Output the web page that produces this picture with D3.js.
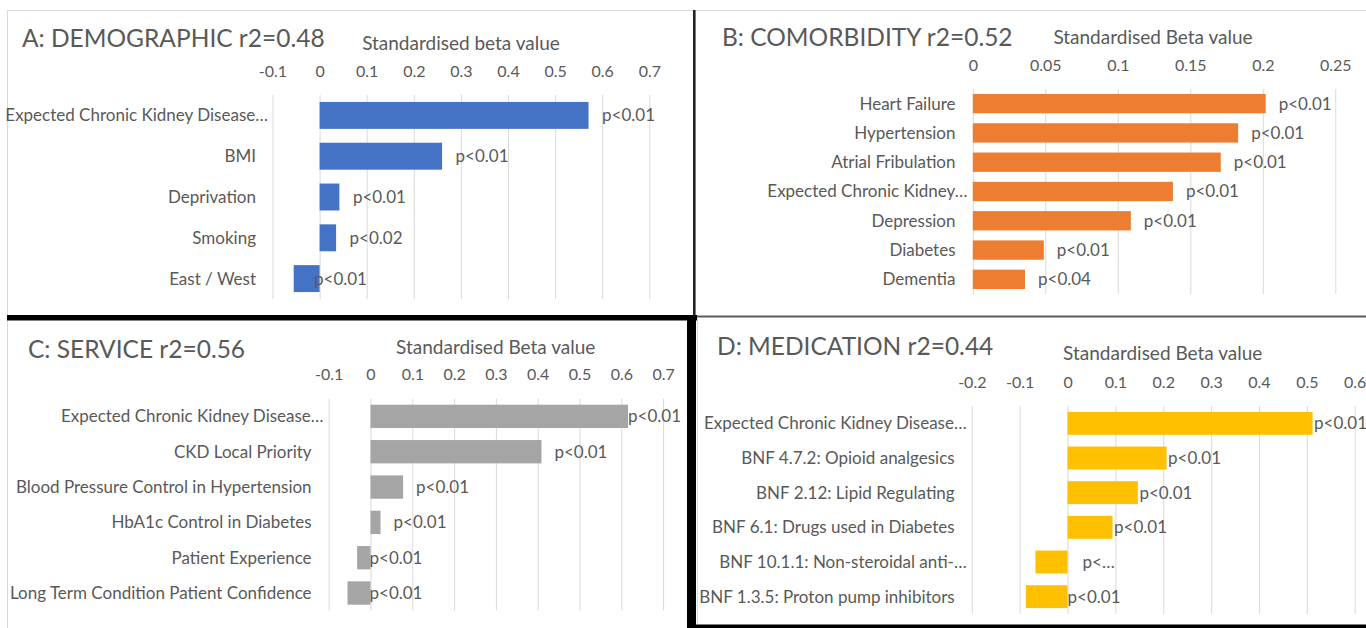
<!DOCTYPE html>
<html>
<head>
<meta charset="utf-8">
<script src="https://cdn.jsdelivr.net/npm/d3@7"></script>
<style>
  html, body { margin: 0; padding: 0; background: #fff; overflow: hidden; }
  svg { display: block; }
  text { font-family: Lato, "Open Sans", sans-serif; fill: #595959; }
</style>
</head>
<body>
<svg id="chart" width="1366" height="628"></svg>
<script>
// ---- A: demographic model ----
const demoCategories = ["Expected Chronic Kidney Disease…", "BMI", "Deprivation", "Smoking", "East / West"];
const demoBeta = [0.571, 0.26, 0.042, 0.035, -0.055];
const demoP = ["p<0.01", "p<0.01", "p<0.01", "p<0.02", "p<0.01"];
const demoTicks = ["-0.1", "0", "0.1", "0.2", "0.3", "0.4", "0.5", "0.6", "0.7"];

// ---- B: comorbidity model ----
const comorbCategories = ["Heart Failure", "Hypertension", "Atrial Fribulation", "Expected Chronic Kidney…", "Depression", "Diabetes", "Dementia"];
const comorbBeta = [0.202, 0.183, 0.171, 0.138, 0.109, 0.049, 0.036];
const comorbP = ["p<0.01", "p<0.01", "p<0.01", "p<0.01", "p<0.01", "p<0.01", "p<0.04"];
const comorbTicks = ["0", "0.05", "0.1", "0.15", "0.2", "0.25"];

// ---- C: service model ----
const serviceCategories = ["Expected Chronic Kidney Disease…", "CKD Local Priority", "Blood Pressure Control in Hypertension", "HbA1c Control in Diabetes", "Patient Experience", "Long Term Condition Patient Confidence"];
const serviceBeta = [0.616, 0.409, 0.078, 0.024, -0.032, -0.055];
const serviceP = ["p<0.01", "p<0.01", "p<0.01", "p<0.01", "p<0.01", "p<0.01"];
const serviceTicks = ["-0.1", "0", "0.1", "0.2", "0.3", "0.4", "0.5", "0.6", "0.7"];

// ---- D: medication model ----
const medCategories = ["Expected Chronic Kidney Disease…", "BNF 4.7.2: Opioid analgesics", "BNF 2.12: Lipid Regulating", "BNF 6.1: Drugs used in Diabetes", "BNF 10.1.1: Non-steroidal anti-…", "BNF 1.3.5: Proton pump inhibitors"];
const medBeta = [0.512, 0.207, 0.147, 0.094, -0.067, -0.087];
const medP = ["p<0.01", "p<0.01", "p<0.01", "p<0.01", "p<…", "p<0.01"];
const medTicks = ["-0.2", "-0.1", "0", "0.1", "0.2", "0.3", "0.4", "0.5", "0.6"];

const FONT = { title: 24.5, axisTitle: 19, tick: 16, cat: 17, value: 17 };

const panels = [
  { title: "A: DEMOGRAPHIC r2=0.48", axisTitle: "Standardised beta value",
    cats: demoCategories, vals: demoBeta, p: demoP, ticks: demoTicks, color: "#4472C4",
    titleX: 22, titleY: 47, axisTitleX: 461, axisTitleY: 50, tickY: 71,
    xRange: [272.5, 649.3], yRange: [95, 299], labelRight: 256,
    gap: 13.5, negGap: -5.6, clampRight: null },
  { title: "B: COMORBIDITY r2=0.52", axisTitle: "Standardised Beta value",
    cats: comorbCategories, vals: comorbBeta, p: comorbP, ticks: comorbTicks, color: "#ED7D31",
    titleX: 722, titleY: 45.7, axisTitleX: 1153, axisTitleY: 44.3, tickY: 65.7,
    xRange: [972.8, 1335.3], yRange: [89, 294], labelRight: 955.5,
    gap: 13, negGap: 0, clampRight: null },
  { title: "C: SERVICE r2=0.56", axisTitle: "Standardised Beta value",
    cats: serviceCategories, vals: serviceBeta, p: serviceP, ticks: serviceTicks, color: "#A5A5A5",
    titleX: 28, titleY: 358, axisTitleX: 495.7, axisTitleY: 354, tickY: 374.6,
    xRange: [328.7, 663.1], yRange: [398.7, 610.7], labelRight: 311.6,
    gap: 13, negGap: -1, clampRight: 681 },
  { title: "D: MEDICATION r2=0.44", axisTitle: "Standardised Beta value",
    cats: medCategories, vals: medBeta, p: medP, ticks: medTicks, color: "#FFC000",
    titleX: 717, titleY: 355.4, axisTitleX: 1162.7, axisTitleY: 360.3, tickY: 381.9,
    xRange: [971.8, 1354.7], yRange: [406, 614], labelRight: 954.7,
    gap: 1.5, negGap: 0, clampRight: null }
];

const svg = d3.select("#chart");

// Frames and separators between the four charts
const frames = svg.append("g").attr("class", "frames");
frames.append("rect").attr("x", 7.5).attr("y", 10.5).attr("width", 688).attr("height", 305)
  .attr("fill", "none").attr("stroke", "#d9d9d9");
frames.append("line").attr("x1", 695).attr("x2", 1366).attr("y1", 10.5).attr("y2", 10.5)
  .attr("stroke", "#d9d9d9");
frames.append("line").attr("x1", 7.5).attr("x2", 7.5).attr("y1", 320).attr("y2", 628)
  .attr("stroke", "#d9d9d9");
frames.append("line").attr("x1", 697.5).attr("x2", 697.5).attr("y1", 318).attr("y2", 624)
  .attr("stroke", "#d9d9d9");
frames.append("rect").attr("x", 693).attr("y", 10).attr("width", 2.5).attr("height", 306).attr("fill", "#222");
frames.append("rect").attr("x", 696).attr("y", 315.5).attr("width", 670).attr("height", 2).attr("fill", "#5a5a5a");
frames.append("rect").attr("x", 7).attr("y", 315).attr("width", 690).attr("height", 5.5).attr("fill", "#000");
frames.append("rect").attr("x", 687).attr("y", 315).attr("width", 9).attr("height", 313).attr("fill", "#000");
frames.append("rect").attr("x", 687).attr("y", 624.5).attr("width", 679).attr("height", 3.5).attr("fill", "#000");

panels.forEach(pn => {
  const g = svg.append("g");
  const tickVals = pn.ticks.map(Number);
  const x = d3.scaleLinear().domain([tickVals[0], tickVals[tickVals.length - 1]]).range(pn.xRange);
  const y = d3.scaleBand().domain(pn.cats).range(pn.yRange).paddingInner(0.34).paddingOuter(0.17);
  const labelOf = new Map(tickVals.map((v, i) => [v, pn.ticks[i]]));

  // vertical gridlines
  const grid = g.append("g").attr("transform", `translate(0,${pn.yRange[0]})`)
    .call(d3.axisBottom(x).tickValues(tickVals).tickSize(pn.yRange[1] - pn.yRange[0]).tickFormat(""));
  grid.select(".domain").remove();
  grid.selectAll(".tick line").attr("stroke", "#d9d9d9").attr("stroke-width", 1);

  // tick labels along the top
  const ax = g.append("g").attr("transform", `translate(0,${pn.tickY})`)
    .call(d3.axisTop(x).tickValues(tickVals).tickSize(0).tickPadding(0).tickFormat(v => labelOf.get(v)));
  ax.select(".domain").remove();
  ax.attr("font-family", null).attr("font-size", null);
  ax.selectAll("text").attr("dy", "0.35em").attr("y", 0)
    .style("font-size", FONT.tick + "px").style("fill", "#595959");

  // bars
  g.append("g").selectAll("rect").data(pn.vals).join("rect")
    .attr("x", v => x(Math.min(0, v)))
    .attr("width", v => Math.abs(x(v) - x(0)))
    .attr("y", (v, i) => y(pn.cats[i]))
    .attr("height", y.bandwidth())
    .attr("fill", pn.color);

  // category labels (truncated ones run slightly further right)
  g.append("g").selectAll("text").data(pn.cats).join("text")
    .attr("x", c => pn.labelRight + (c.endsWith("…") ? 12 : 0))
    .attr("y", c => y(c) + y.bandwidth() / 2)
    .attr("dy", "0.35em")
    .attr("text-anchor", "end")
    .style("font-size", FONT.cat + "px")
    .text(c => c);

  // significance labels
  g.append("g").selectAll("text").data(pn.vals).join("text")
    .attr("y", (v, i) => y(pn.cats[i]) + y.bandwidth() / 2)
    .attr("dy", "0.35em")
    .style("font-size", FONT.value + "px")
    .text((v, i) => pn.p[i])
    .attr("x", function (v, i) {
      let px = v >= 0 ? x(v) + pn.gap : x(0) + pn.negGap;
      // a clipped label sits clear of the zero line
      if (pn.p[i].endsWith("…")) px = x(0) + 15;
      if (pn.clampRight != null) px = Math.min(px, pn.clampRight - this.getComputedTextLength());
      return px;
    });

  // titles
  g.append("text").attr("x", pn.titleX).attr("y", pn.titleY)
    .style("font-size", FONT.title + "px").text(pn.title);
  g.append("text").attr("x", pn.axisTitleX).attr("y", pn.axisTitleY)
    .attr("text-anchor", "middle").style("font-size", FONT.axisTitle + "px").text(pn.axisTitle);
});
</script>
</body>
</html>
